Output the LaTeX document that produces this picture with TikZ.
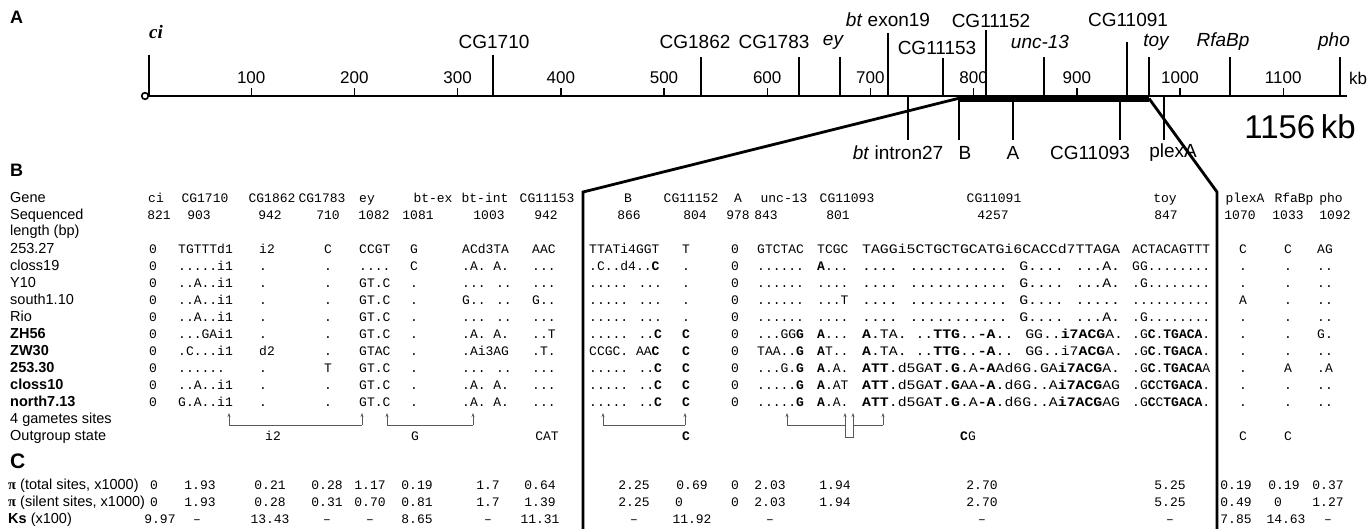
\documentclass[tikz,border=0pt]{standalone}
\usepackage{fontspec}
\usepackage{graphicx}
\setmainfont{Liberation Sans}
\newfontfamily\monof{Liberation Mono}
\newfontfamily\serf{Liberation Serif}
\usetikzlibrary{arrows.meta}

\tikzset{
  axisln/.style={line width=2.4pt},
  tick/.style={line width=2pt},
  zoomln/.style={line width=2.8pt},
  gname/.style={font=\fontsize{19}{21}\selectfont, inner sep=0pt},
  knum/.style={font=\fontsize{17}{19}\selectfont, inner sep=0pt},
  panel/.style={font=\bfseries\fontsize{18}{20}\selectfont, inner sep=0pt, anchor=west},
  rowlbl/.style={font=\fontsize{14.5}{16}\selectfont, inner sep=0pt, anchor=west, text height=10.5pt, text depth=3pt},
  hdr/.style={font=\monof\fontsize{13}{15}\selectfont, inner sep=0pt, text height=9pt, text depth=2.5pt},
  seq/.style={hdr, anchor=west},
  gam/.style={line width=0.7pt, gray!70!black},
  gamarr/.style={gam, -{Stealth[length=4pt, width=3pt]}},
}

\newcommand\wideseq[1]{\scalebox{1.14}[1]{#1}}
\newcommand\rowL[9]{%
  \node[seq] (#1-1710) at (c1710 |- #1) {#2};
  \node[seq] (#1-1862) at (c1862 |- #1) {#3};
  \node[seq] (#1-1783) at (c1783 |- #1) {#4};
  \node[seq] (#1-ey) at (cey |- #1) {#5};
  \node[seq] (#1-btex) at (cbtex |- #1) {#6};
  \node[seq] (#1-btint) at (cbtint |- #1) {#7};
  \node[seq] (#1-11153) at (c11153 |- #1) {#8};
  \node[seq] (#1-B) at (cB |- #1) {#9};}
\newcommand\rowR[9]{%
  \node[seq] (#1-11152) at (c11152 |- #1) {#2};
  \node[seq] (#1-unc) at (cunc |- #1) {#3};
  \node[seq] (#1-11093) at (c11093 |- #1) {#4};
  \node[seq] (#1-11091) at (c11091 |- #1) {\wideseq{#5}};
  \node[seq] (#1-toy) at (ctoy |- #1) {#6};
  \node[seq] (#1-plex) at (cplex |- #1) {#7};
  \node[seq] (#1-rfa) at (crfa |- #1) {#8};
  \node[seq] (#1-pho) at (cpho |- #1) {#9};}

\begin{document}
\begin{tikzpicture}[x=1pt, y=-1pt]
	\useasboundingbox (0,0) rectangle (1372,529);
	\fill[white] (0,0) rectangle (1372,529);

	% A: map
	\node[panel] (pA) at (10,17) {A};
	\coordinate (ax0) at (149,96);
	\coordinate (ax1) at (1347,96);
	\draw[axisln] (ax0) -- (ax1);
	\draw[line width=1.6pt, fill=white] (145,96) circle (3.3pt);
	\foreach \k in {1,...,11}
		\draw[tick, line width=1.4pt] ({148+103.2*\k},96) -- ++(0,-8) node[knum, above=4pt] {\k00};
	\node[knum] (kb) at (1358,78) {kb};
	\foreach \x/\t in {149/55, 493/55, 701/57, 799/57, 840/57, 888/33, 943/58, 986/30, 1044/57, 1127/42, 1149/57, 1230/57, 1340/57}
		\draw[tick] (\x,96) -- (\x,\t);
	\foreach \x in {908, 959, 1013, 1120, 1164}
		\draw[tick] (\x,96) -- (\x,140);
	\coordinate (barL) at (958,98.5);
	\coordinate (barR) at (1149,98.5);
	\draw[line width=6.5pt] (barL) -- (barR);

	\node[gname] (gci) at (156,32) {\serf\bfseries\itshape ci};
	\node[gname] (g1710) at (494,42) {CG1710};
	\node[gname] (g1862) at (695,42) {CG1862};
	\node[gname] (g1783) at (774,42) {CG1783};
	\node[gname] (gey) at (833,42) {\itshape ey};
	\node[gname] (gbtex) at (888,20) {\textit{bt} exon19};
	\node[gname] (g11153) at (937,48) {CG11153};
	\node[gname] (g11152) at (991,21) {CG11152};
	\node[gname] (gunc) at (1040,42) {\itshape unc-13};
	\node[gname] (g11091) at (1128,20) {CG11091};
	\node[gname] (gtoy) at (1156,42) {\itshape toy};
	\node[gname] (grfa) at (1223,42) {\itshape RfaBp};
	\node[gname] (gpho) at (1334,42) {\itshape pho};
	\node[gname] (gbtin) at (898,153) {\textit{bt} intron27};
	\node[gname] (gB) at (965,153) {B};
	\node[gname] (gA) at (1013,153) {A};
	\node[gname] (g11093) at (1090,153) {CG11093};
	\node[gname] (gplex) at (1173,153) {plexA};
	\node[font=\fontsize{33}{35}\selectfont, inner sep=0pt] (total) at (1300,127) {1156\,kb};

	\coordinate (zl) at (583,192);
	\coordinate (zlb) at (583,529);
	\coordinate (zr) at (1217,192);
	\coordinate (zrb) at (1217,529);
	\draw[zoomln] (barL) -- (zl) -- (zlb);
	\draw[zoomln] (barR) -- (zr) -- (zrb);

	% B: polymorphism table
	\node[panel] (pB) at (10,170) {B};
	\foreach \y/\t [count=\i] in {199/Gene, 216/Sequenced, 232/length (bp), 250/253.27, 267/closs19, 284/Y10, 301/south1.10, 318/Rio, 335/\textbf{ZH56}, 352/\textbf{ZW30}, 369/\textbf{253.30}, 386/\textbf{closs10}, 403/\textbf{north7.13}, 420/4 gametes sites, 437/Outgroup state}
		\node[rowlbl] (l\i) at (10,\y) {\t};
	\foreach \x/\t [count=\i] in {156/ci, 205/CG1710, 272/CG1862, 322/CG1783, 367/ey, 433/bt-ex, 485/bt-int, 547/CG11153, 628/B, 691/CG11152, 738/A, 784/unc-13, 847/CG11093, 994/CG11091, 1165/toy, 1245/plexA, 1294/RfaBp, 1331/pho}
		\node[hdr] (h\i) at (\x,199) {\t};
	\foreach \x/\t [count=\i] in {159/821, 199/903, 270/942, 328/710, 374/1082, 418/1081, 489/1003, 546/942, 629/866, 695/804, 738/978, 766/843, 838/801, 993/4257, 1166/847, 1240/1070, 1288/1033, 1335/1092}
		\node[hdr] (n\i) at (\x,216) {\t};

	\foreach \n/\x in {cci/149, c1710/178, c1862/259, c1783/324, cey/359, cbtex/410, cbtint/462, c11153/532, cB/589, c11152/682, cA/731, cunc/757, c11093/817, c11091/862, ctoy/1132, cplex/1239, crfa/1284, cpho/1317}
		\coordinate (\n) at (\x,0);
	\foreach \r in {1,...,10} {
		\coordinate (r\r) at (0,{250+17*(\r-1)});
		\node[seq] (r\r-ci) at (cci |- r\r) {0};
		\node[seq] (r\r-A) at (cA |- r\r) {0};
	}

	\rowL{r1}{TGTTTd1}{i2}{C}{CCGT}{G}{ACd3TA}{AAC}{TTATi4GGT}
	\rowR{r1}{T}{GTCTAC}{TCGC}{TAGGi5CTGCTGCATGi6CACCd7TTAGA}{ACTACAGTTT}{C}{C}{AG}
	\rowL{r2}{.....i1}{.}{.}{....}{C}{.A. A.}{...}{.C..d4..\textbf{C}}
	\rowR{r2}{.}{......}{\textbf{A}...}{.... ........... G.... ...A.}{GG........}{.}{.}{..}
	\rowL{r3}{..A..i1}{.}{.}{GT.C}{.}{... ..}{...}{..... ...}
	\rowR{r3}{.}{......}{....}{.... ........... G.... ...A.}{.G........}{.}{.}{..}
	\rowL{r4}{..A..i1}{.}{.}{GT.C}{.}{G.. ..}{G..}{..... ...}
	\rowR{r4}{.}{......}{...T}{.... ........... G.... .....}{..........}{A}{.}{..}
	\rowL{r5}{..A..i1}{.}{.}{GT.C}{.}{... ..}{...}{..... ...}
	\rowR{r5}{.}{......}{....}{.... ........... G.... ...A.}{.G........}{.}{.}{..}
	\rowL{r6}{...GAi1}{.}{.}{GT.C}{.}{.A. A.}{..T}{..... ..\textbf{C}}
	\rowR{r6}{\textbf{C}}{...GG\textbf{G}}{\textbf{A}...}{\textbf{A}.TA. ..\textbf{TTG}..\textbf{-A}.. GG..\textbf{i7ACG}A.}{.G\textbf{C}.\textbf{TGACA}.}{.}{.}{G.}
	\rowL{r7}{.C...i1}{d2}{.}{GTAC}{.}{.Ai3AG}{.T.}{CCGC. AA\textbf{C}}
	\rowR{r7}{\textbf{C}}{TAA..\textbf{G}}{\textbf{A}T..}{\textbf{A}.TA. ..\textbf{TTG}..\textbf{-A}.. GG..i7\textbf{ACG}A.}{.G\textbf{C}.\textbf{TGACA}.}{.}{.}{..}
	\rowL{r8}{......}{.}{T}{GT.C}{.}{... ..}{...}{..... ..\textbf{C}}
	\rowR{r8}{\textbf{C}}{...G.\textbf{G}}{\textbf{A}.A.}{\textbf{ATT}.d5GA\textbf{T}.\textbf{G}.A\textbf{-A}Ad6G.GA\textbf{i7ACG}A.}{.G\textbf{C}.\textbf{TGACA}A}{.}{A}{.A}
	\rowL{r9}{..A..i1}{.}{.}{GT.C}{.}{.A. A.}{...}{..... ..\textbf{C}}
	\rowR{r9}{\textbf{C}}{.....\textbf{G}}{\textbf{A}.AT}{\textbf{ATT}.d5GA\textbf{T}.\textbf{G}AA\textbf{-A}.d6G..A\textbf{i7ACG}AG}{.G\textbf{C}C\textbf{TGACA}.}{.}{.}{..}
	\rowL{r10}{G.A..i1}{.}{.}{GT.C}{.}{.A. A.}{...}{..... ..\textbf{C}}
	\rowR{r10}{\textbf{C}}{.....\textbf{G}}{\textbf{A}.A.}{\textbf{ATT}.d5GA\textbf{T}.\textbf{G}.A\textbf{-A}.d6G..A\textbf{i7ACG}AG}{.G\textbf{C}C\textbf{TGACA}.}{.}{.}{..}

	\foreach \x [count=\i] in {229, 362, 387, 473, 603, 685, 787, 845, 853, 883} {
		\coordinate (g\i) at (\x,425);
		\draw[gamarr] (g\i) -- ++(0,-12);
	}
	\draw[gam] (g1) -- (g2);
	\draw[gam] (g3) -- (g4);
	\draw[gam] (g5) -- (g6);
	\draw[gam] (g7) -- (g8) -- ++(0,12) -| (g9) -- (g10);

	\node[hdr] (o1) at (273,437) {i2};
	\node[hdr] (o2) at (415,437) {G};
	\node[hdr] (o3) at (547,437) {CAT};
	\node[hdr] (o4) at (686,437) {\textbf{C}};
	\node[hdr] (o5) at (968,437) {\textbf{C}G};
	\node[hdr] (o6) at (1243,437) {C};
	\node[hdr] (o7) at (1288,437) {C};

	% C: diversity
	\node[panel, font=\bfseries\fontsize{21}{23}\selectfont] (pC) at (10,461) {C};
	\node[rowlbl] (lpt) at (8,486) {{\serf\bfseries π} (total sites, x1000)};
	\node[rowlbl] (lps) at (8,503) {{\serf\bfseries π} (silent sites, x1000)};
	\node[rowlbl] (lks) at (8,520) {\textbf{Ks} (x100)};
	\foreach \x/\v [count=\i] in {154/0, 200/1.93, 270/0.21, 327/0.28, 370/1.17, 417/0.19, 488/1.7, 540/0.64, 634/2.25, 692/0.69, 735/0, 770/2.03, 835/1.94, 982/2.70, 1170/5.25, 1236/0.19, 1284/0.19, 1328/0.37}
		\node[hdr] (pt\i) at (\x,486) {\v};
	\foreach \x/\v [count=\i] in {154/0, 200/1.93, 270/0.28, 327/0.31, 370/0.70, 417/0.81, 488/1.7, 540/1.39, 634/2.25, 679/0, 735/0, 770/2.03, 835/1.94, 982/2.70, 1170/5.25, 1236/0.49, 1278/0, 1328/1.27}
		\node[hdr] (ps\i) at (\x,503) {\v};
	\foreach \x/\v [count=\i] in {160/9.97, 197/–, 270/13.43, 327/–, 370/–, 417/8.65, 488/–, 540/11.31, 634/–, 692/11.92, 770/–, 982/–, 1170/–, 1236/7.85, 1286/14.63, 1328/–}
		\node[hdr] (ks\i) at (\x,520) {\v};
\end{tikzpicture}
\end{document}
